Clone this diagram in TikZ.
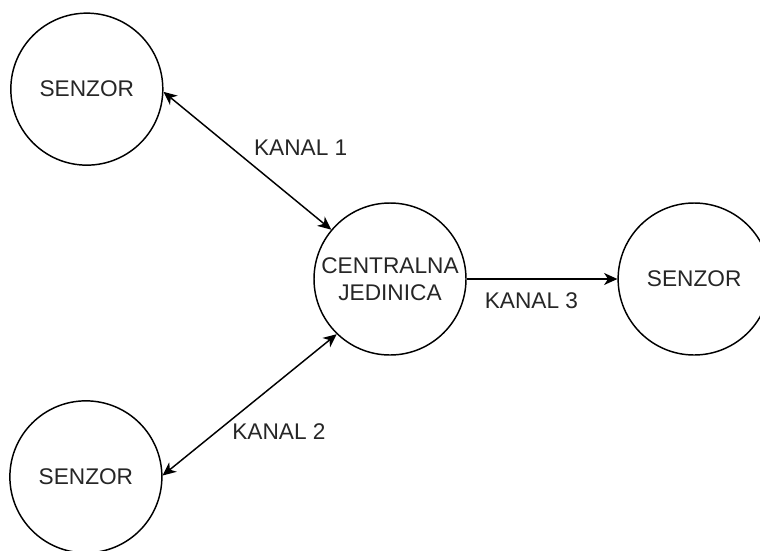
\documentclass[tikz,border=0pt]{standalone}
\usepackage{fontspec}
\setmainfont{Liberation Sans}
\usetikzlibrary{positioning,arrows.meta}

\tikzset{
  unit/.style={circle, draw, line width=1.1pt, minimum size=114pt, inner sep=0pt,
    align=center, text=black!85, font=\fontsize{17}{20}\selectfont},
  link/.style={line width=1.1pt},
  lbl/.style={text=black!85, font=\fontsize{17}{20}\selectfont}
}

\begin{document}
\begin{tikzpicture}[x=0.75pt, y=-0.75pt, >={Stealth[length=10pt,width=9pt,inset=3pt]}]
  \useasboundingbox (0,0) rectangle (760,550);

  % Define nodes
  \node[unit]                                   (c)  at (390,279) {CENTRALNA\\JEDINICA};
  \node[unit, above left=61pt and 146pt of c]   (s1) {SENZOR};
  \node[unit, below left=67pt and 146.7pt of c] (s2) {SENZOR};
  \node[unit, right=113pt of c]                 (s3) {SENZOR};

  % Connect the nodes
  \draw[link, <->] (s1.-2) -- node[lbl, xshift=40pt, yshift=10pt] (k1) {KANAL 1} (c.140);
  \draw[link, <->] (c.-134) -- node[lbl, xshift=22pt, yshift=-20pt] (k2) {KANAL 2} (s2.1);
  \draw[link, ->]  (c) -- node[lbl, xshift=-8pt, yshift=-16.5pt] (k3) {KANAL 3} (s3);

\end{tikzpicture}
\end{document}
